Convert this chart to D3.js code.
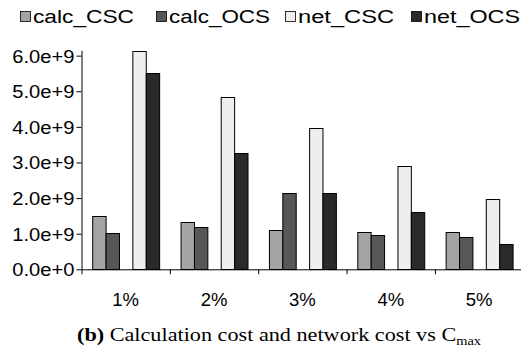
<!DOCTYPE html>
<html>
<head>
<meta charset="utf-8">
<script src="https://cdn.jsdelivr.net/npm/d3@7"></script>
<style>
  html, body { margin: 0; padding: 0; background: #fff; }
  svg { display: block; }
  text { fill: #000; }
</style>
</head>
<body>
<svg id="chart" width="521" height="358"></svg>
<script>
// Cost per C_max setting
const categories = ["1%", "2%", "3%", "4%", "5%"];
const seriesNames = ["calc_CSC", "calc_OCS", "net_CSC", "net_OCS"];
const calcCSC = [1.50e9, 1.34e9, 1.11e9, 1.06e9, 1.06e9];
const calcOCS = [1.02e9, 1.18e9, 2.13e9, 0.97e9, 0.92e9];
const netCSC  = [6.13e9, 4.85e9, 3.96e9, 2.89e9, 1.97e9];
const netOCS  = [5.51e9, 3.27e9, 2.13e9, 1.60e9, 0.72e9];
const yTicks  = [0, 1e9, 2e9, 3e9, 4e9, 5e9, 6e9];
const captionBold = "(b)";
const captionText = " Calculation cost and network cost vs C";
const captionSub  = "max";

const seriesValues = [calcCSC, calcOCS, netCSC, netOCS];
const fills = ["#a4a4a4", "#575757", "#eeeeee", "#2a2a2a"];
// slot order inside each category; the empty slot separates calc and net bars
const slots = ["calc_CSC", "calc_OCS", "", "net_CSC", "net_OCS"];

const SANS = '"Liberation Sans", Arial, sans-serif';
const SERIF = '"Liberation Serif", "Times New Roman", serif';

const svg = d3.select("#chart");
const plotLeft = 81.5, plotRight = 523.3, plotTop = 50.3, plotBottom = 269.3;

const x = d3.scaleBand().domain(categories).range([plotLeft, plotRight]).paddingInner(0).paddingOuter(0);
const xSlot = d3.scaleBand().domain(slots).range([0, x.bandwidth()]).paddingInner(0).paddingOuter(0.8);
const y = d3.scaleLinear().domain([0, 6.15e9]).range([plotBottom, plotTop]);

// stretch a text element horizontally to a given factor of its natural width
function stretch(sel, factor) {
  sel.each(function () {
    const w = this.getComputedTextLength();
    d3.select(this).attr("textLength", w * factor).attr("lengthAdjust", "spacingAndGlyphs");
  });
}

// bars
const rows = categories.map((c, i) => ({ cat: c, values: seriesValues.map(s => s[i]) }));
const groups = svg.append("g").selectAll("g").data(rows).join("g")
  .attr("transform", d => `translate(${x(d.cat)},0)`);
groups.selectAll("rect")
  .data(d => d.values.map((v, k) => ({ name: seriesNames[k], value: v, k })))
  .join("rect")
  .attr("x", d => xSlot(d.name) + 0.5)
  .attr("y", d => Math.round(y(d.value)) + 0.5)
  .attr("width", xSlot.bandwidth())
  .attr("height", d => Math.round(y(0)) - Math.round(y(d.value)))
  .attr("fill", d => fills[d.k])
  .attr("stroke", "#000")
  .attr("stroke-width", 1);

// y axis
const yAxis = svg.append("g")
  .attr("transform", `translate(${plotLeft},0)`)
  .call(d3.axisLeft(y).tickValues(yTicks).tickFormat(d3.format(".1e")).tickSize(5).tickSizeOuter(0).tickPadding(2));
yAxis.select(".domain").attr("stroke", "#000");
yAxis.selectAll(".tick line").attr("stroke", "#000");
yAxis.selectAll(".tick text")
  .style("font-family", SANS)
  .style("font-size", "18px")
  .attr("dy", "0.36em")
  .call(stretch, 1.12);

// x axis: ticks on category boundaries
const xb = d3.scaleLinear().domain([0, categories.length]).range([plotLeft, plotRight]);
const xAxis = svg.append("g")
  .attr("transform", `translate(0,${plotBottom})`)
  .call(d3.axisBottom(xb).tickValues(d3.range(categories.length + 1)).tickFormat("").tickSize(5).tickSizeOuter(0));
xAxis.select(".domain").attr("stroke", "#000");
xAxis.selectAll(".tick line").attr("stroke", "#000");

svg.append("g").selectAll("text").data(categories).join("text")
  .attr("x", d => x(d) + x.bandwidth() / 2)
  .attr("y", 305.5)
  .attr("text-anchor", "middle")
  .style("font-family", SANS)
  .style("font-size", "18.5px")
  .text(d => d);

// legend
const legendX = [20, 156, 285, 411];
const legendW = [101, 101, 96, 96];
const legend = svg.append("g").selectAll("g").data(seriesNames).join("g")
  .attr("transform", (d, i) => `translate(${legendX[i]},0)`);
legend.append("rect")
  .attr("x", 0.5).attr("y", 11.5).attr("width", 10).attr("height", 10)
  .attr("fill", (d, i) => fills[i]).attr("stroke", "#000").attr("stroke-width", 0.8);
legend.append("text")
  .attr("x", 13).attr("y", 23.3)
  .style("font-family", SANS)
  .style("font-size", "18px")
  .attr("textLength", (d, i) => legendW[i])
  .attr("lengthAdjust", "spacingAndGlyphs")
  .text(d => d);

// caption
const cap = svg.append("text")
  .attr("x", 77).attr("y", 341)
  .style("font-family", SERIF)
  .style("font-size", "18.5px");
cap.append("tspan").style("font-weight", "bold").text(captionBold);
cap.append("tspan").text(captionText);
cap.append("tspan").style("font-size", "12px").attr("dy", 4).text(captionSub);
cap.call(stretch, 1.2);
</script>
</body>
</html>
